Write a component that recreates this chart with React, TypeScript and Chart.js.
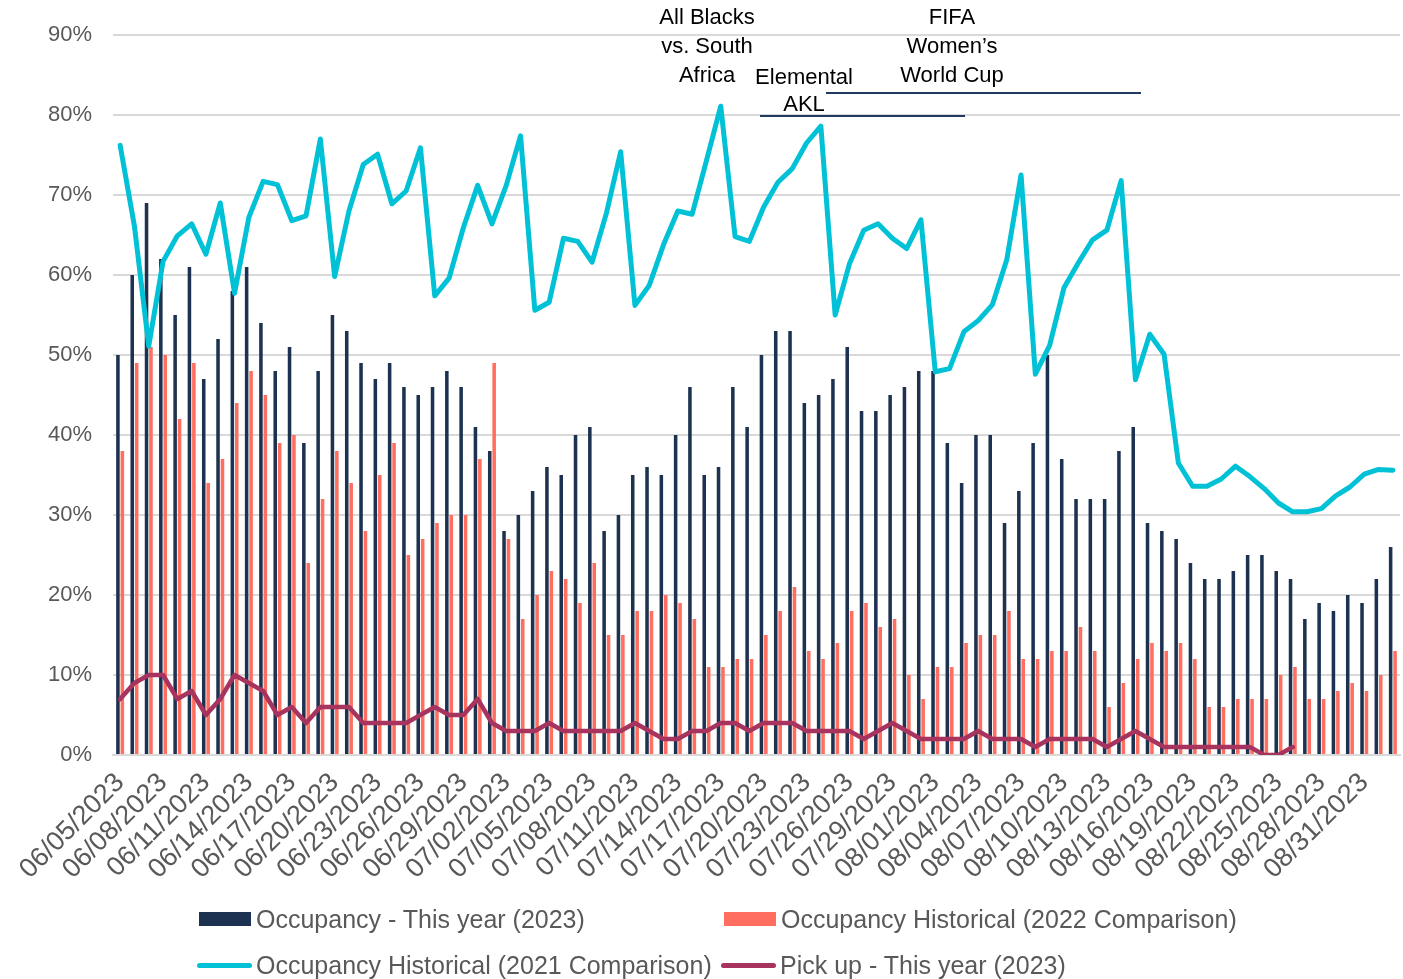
import React, { useEffect, useRef } from "react";
import { Chart, registerables } from "chart.js";

Chart.register(...registerables);

const dates: string[] = [
  "06/05/2023", "06/06/2023", "06/07/2023", "06/08/2023", "06/09/2023", "06/10/2023", "06/11/2023", "06/12/2023", "06/13/2023", "06/14/2023",
  "06/15/2023", "06/16/2023", "06/17/2023", "06/18/2023", "06/19/2023", "06/20/2023", "06/21/2023", "06/22/2023", "06/23/2023", "06/24/2023",
  "06/25/2023", "06/26/2023", "06/27/2023", "06/28/2023", "06/29/2023", "06/30/2023", "07/01/2023", "07/02/2023", "07/03/2023", "07/04/2023",
  "07/05/2023", "07/06/2023", "07/07/2023", "07/08/2023", "07/09/2023", "07/10/2023", "07/11/2023", "07/12/2023", "07/13/2023", "07/14/2023",
  "07/15/2023", "07/16/2023", "07/17/2023", "07/18/2023", "07/19/2023", "07/20/2023", "07/21/2023", "07/22/2023", "07/23/2023", "07/24/2023",
  "07/25/2023", "07/26/2023", "07/27/2023", "07/28/2023", "07/29/2023", "07/30/2023", "07/31/2023", "08/01/2023", "08/02/2023", "08/03/2023",
  "08/04/2023", "08/05/2023", "08/06/2023", "08/07/2023", "08/08/2023", "08/09/2023", "08/10/2023", "08/11/2023", "08/12/2023", "08/13/2023",
  "08/14/2023", "08/15/2023", "08/16/2023", "08/17/2023", "08/18/2023", "08/19/2023", "08/20/2023", "08/21/2023", "08/22/2023", "08/23/2023",
  "08/24/2023", "08/25/2023", "08/26/2023", "08/27/2023", "08/28/2023", "08/29/2023", "08/30/2023", "08/31/2023", "09/01/2023", "09/02/2023",
];

const occupancy2023: number[] = [
  50, 60, 69, 62, 55, 61, 47, 52, 58, 61, 54, 48, 51, 39, 48,
  55, 53, 49, 47, 49, 46, 45, 46, 48, 46, 41, 38, 28, 30, 33, 36,
  35, 40, 41, 28, 30, 35, 36, 35, 40, 46, 35, 36, 46, 41, 50,
  53, 53, 44, 45, 47, 51, 43, 43, 45, 46, 48, 48, 39, 34, 40, 40,
  29, 33, 39, 50, 37, 32, 32, 32, 38, 41, 29, 28, 27, 24, 22,
  22, 23, 25, 25, 23, 22, 17, 19, 18, 20, 19, 22, 26,
];

const occupancy2022: number[] = [
  38, 49, 51, 50, 42, 49, 34, 37, 44, 48, 45, 39, 40, 24, 32,
  38, 34, 28, 35, 39, 25, 27, 29, 30, 30, 37, 49, 27, 17, 20, 23,
  22, 19, 24, 15, 15, 18, 18, 20, 19, 17, 11, 11, 12, 12, 15,
  18, 21, 13, 12, 14, 18, 19, 16, 17, 10, 7, 11, 11, 14, 15, 15,
  18, 12, 12, 13, 13, 16, 13, 6, 9, 12, 14, 13, 14, 12, 6,
  6, 7, 7, 7, 10, 11, 7, 7, 8, 9, 8, 10, 13,
];

const occupancy2021: number[] = [
  76.2, 66.1, 51.1, 61.7, 64.9, 66.4, 62.6, 69.0, 57.7, 67.2, 71.7, 71.3, 66.8, 67.4, 77.0,
  59.8, 68.0, 73.8, 75.1, 68.9, 70.5, 75.9, 57.4, 59.6, 65.9, 71.2, 66.4, 71.2, 77.4, 55.6, 56.6,
  64.6, 64.2, 61.6, 67.7, 75.4, 56.2, 58.7, 63.8, 68.0, 67.6, 74.3, 81.1, 64.8, 64.2, 68.5,
  71.6, 73.3, 76.5, 78.6, 55.0, 61.4, 65.6, 66.4, 64.6, 63.3, 66.9, 47.9, 48.3, 52.9, 54.3,
  56.3, 61.9, 72.5, 47.6, 51.2, 58.4, 61.5, 64.4, 65.6, 71.8, 46.9, 52.6, 50.1, 36.5, 33.6, 33.6,
  34.5, 36.1, 34.8, 33.3, 31.5, 30.4, 30.4, 30.8, 32.4, 33.5, 35.1, 35.7, 35.6,
];

const pickup2023: (number | null)[] = [
  7, 9, 10, 10, 7, 8, 5, 7, 10, 9, 8, 5, 6, 4, 6,
  6, 6, 4, 4, 4, 4, 5, 6, 5, 5, 7, 4, 3, 3, 3, 4,
  3, 3, 3, 3, 3, 4, 3, 2, 2, 3, 3, 4, 4, 3, 4,
  4, 4, 3, 3, 3, 3, 2, 3, 4, 3, 2, 2, 2, 2, 3, 2,
  2, 2, 1, 2, 2, 2, 2, 1, 2, 3, 2, 1, 1, 1, 1,
  1, 1, 1, 0, 0, 1, null, null, null, null, null, null, null,
];

const yTicks: number[] = [0, 10, 20, 30, 40, 50, 60, 70, 80, 90];

const seriesNames: string[] = [
  "Occupancy - This year (2023)",
  "Occupancy Historical (2022 Comparison)",
  "Occupancy Historical (2021 Comparison)",
  "Pick up - This year (2023)",
];

const NAVY = "#1D3251";
const CORAL = "#FF6E5E";
const CYAN = "#00C1D5";
const MAROON = "#A7335F";
const GRAY_TEXT = "#595959";
const FONT = "'Liberation Sans', Arial, sans-serif";

const annotationPlugin = {
  id: "eventNotes",
  afterDraw(chart: any) {
    const ctx = chart.ctx as CanvasRenderingContext2D;
    ctx.save();
    ctx.fillStyle = "#000000";
    ctx.font = `22px ${FONT}`;
    ctx.textAlign = "center";
    ctx.textBaseline = "middle";
    const notes: [string, number, number][] = [
      ["All Blacks", 707, 18],
      ["vs. South", 707, 47],
      ["Africa", 707, 76],
      ["Elemental", 804, 78],
      ["AKL", 804, 105],
      ["FIFA", 952, 18],
      ["Women\u2019s", 952, 47],
      ["World Cup", 952, 76],
    ];
    notes.forEach(([t, x, y]) => ctx.fillText(t, x, y));
    ctx.strokeStyle = "#1F3A60";
    ctx.lineWidth = 2;
    ctx.beginPath();
    ctx.moveTo(826, 93);
    ctx.lineTo(1141, 93);
    ctx.moveTo(760, 116);
    ctx.lineTo(965, 116);
    ctx.stroke();
    ctx.restore();
  },
};

export default function App() {
  const canvasRef = useRef<HTMLCanvasElement | null>(null);

  useEffect(() => {
    const canvas = canvasRef.current;
    if (!canvas) return;
    const chart = new Chart(canvas, {
      type: "bar",
      data: {
        labels: dates,
        datasets: [
          {
            type: "line",
            label: seriesNames[2],
            data: occupancy2021,
            borderColor: CYAN,
            backgroundColor: CYAN,
            borderWidth: 5,
            pointRadius: 0,
            tension: 0,
            borderCapStyle: "round",
            borderJoinStyle: "round",
            order: 0,
          },
          {
            type: "line",
            label: seriesNames[3],
            data: pickup2023,
            borderColor: MAROON,
            backgroundColor: MAROON,
            borderWidth: 4.5,
            pointRadius: 0,
            tension: 0,
            borderCapStyle: "round",
            borderJoinStyle: "round",
            spanGaps: false,
            order: 0,
          },
          {
            type: "bar",
            label: seriesNames[0],
            data: occupancy2023,
            backgroundColor: NAVY,
            categoryPercentage: 0.62,
            barPercentage: 0.8,
            order: 1,
          },
          {
            type: "bar",
            label: seriesNames[1],
            data: occupancy2022,
            backgroundColor: CORAL,
            categoryPercentage: 0.62,
            barPercentage: 0.8,
            order: 1,
          },
        ],
      } as any,
      options: {
        responsive: false,
        animation: false,
        devicePixelRatio: 1,
        layout: { padding: { top: 35, right: 3, left: 0, bottom: 0 } },
        plugins: {
          legend: { display: false },
          tooltip: { enabled: false },
        },
        scales: {
          x: {
            grid: { display: false },
            border: { color: "#D9D9D9", width: 2 },
            ticks: {
              autoSkip: false,
              minRotation: 45,
              maxRotation: 45,
              padding: 4,
              color: GRAY_TEXT,
              font: { family: FONT, size: 27 },
              callback: (_v: any, i: number) => (i % 3 === 0 ? dates[i] : ""),
            },
            afterFit: (s: any) => {
              s.height = 224;
              s.paddingRight = 0;
            },
          },
          y: {
            min: 0,
            max: 90,
            afterBuildTicks: (s: any) => {
              s.ticks = yTicks.map((v) => ({ value: v }));
            },
            grid: { color: "#D9D9D9", lineWidth: 2, drawTicks: false },
            border: { display: false },
            ticks: {
              padding: 21,
              color: GRAY_TEXT,
              font: { family: FONT, size: 22 },
              callback: (v: any) => `${v}%`,
            },
            afterFit: (s: any) => {
              s.width = 113;
            },
          },
        },
      } as any,
      plugins: [annotationPlugin],
    });
    return () => chart.destroy();
  }, []);

  const legendItem = (
    i: number,
    color: string,
    kind: "box" | "line",
    left: number,
    top: number
  ) => (
    <div
      key={i}
      style={{
        position: "absolute",
        left,
        top: top - 20,
        height: 40,
        display: "flex",
        alignItems: "center",
        whiteSpace: "nowrap",
      }}
    >
      {kind === "box" ? (
        <span style={{ display: "inline-block", width: 52, height: 14, background: color }} />
      ) : (
        <span
          style={{ display: "inline-block", width: 55, height: 5, borderRadius: 3, background: color }}
        />
      )}
      <span
        style={{
          marginLeft: kind === "box" ? 5 : 4,
          fontFamily: FONT,
          fontSize: 25,
          color: GRAY_TEXT,
        }}
      >
        {seriesNames[i]}
      </span>
    </div>
  );

  return (
    <div style={{ position: "absolute", left: 0, top: 0, width: 1403, height: 979, overflow: "hidden", background: "#fff" }}>
      <canvas ref={canvasRef} width={1403} height={979} style={{ position: "absolute", left: 0, top: 0 }} />
      {legendItem(0, NAVY, "box", 199, 919)}
      {legendItem(1, CORAL, "box", 724, 919)}
      {legendItem(2, CYAN, "line", 197, 965)}
      {legendItem(3, MAROON, "line", 721, 965)}
    </div>
  );
}
